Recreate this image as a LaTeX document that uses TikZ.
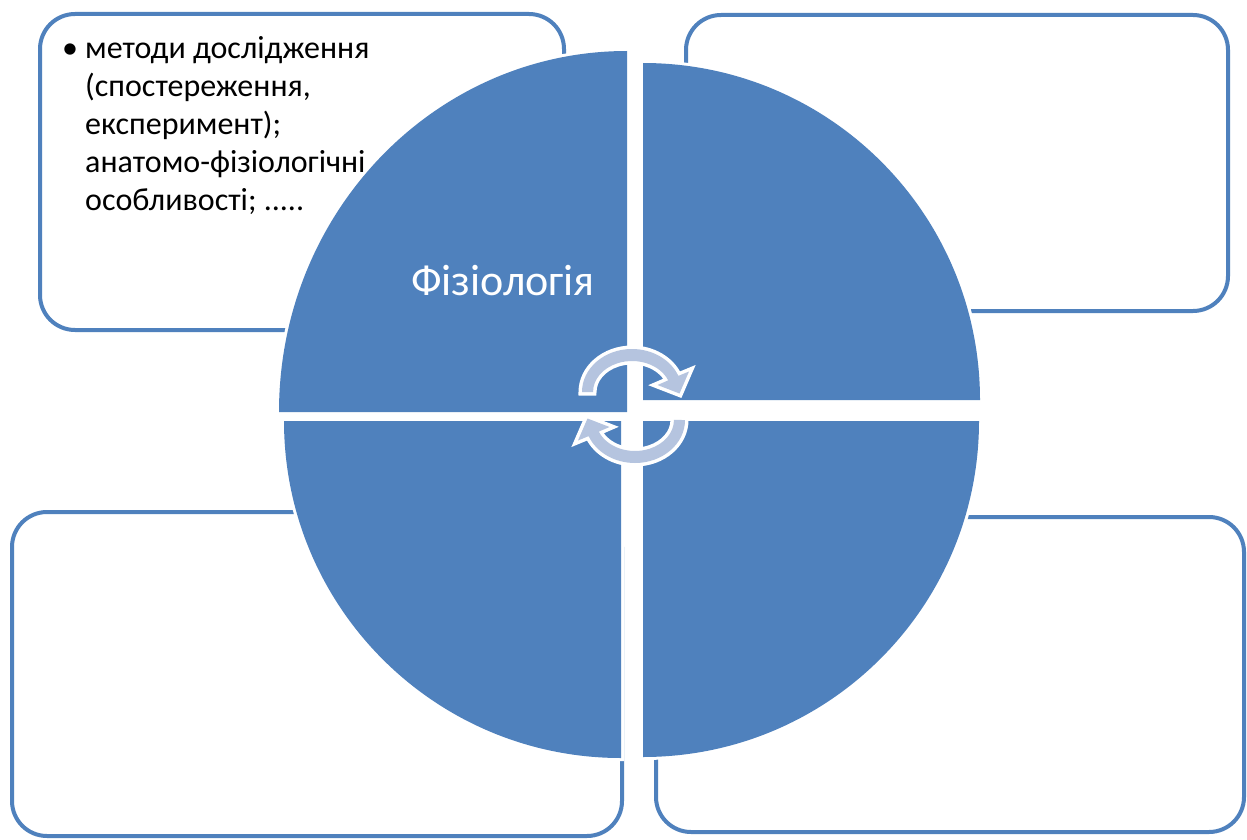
\documentclass[tikz,border=0pt]{standalone}
\usepackage{fontspec}
\setmainfont{Carlito}
\definecolor{ablue}{HTML}{4F81BD}
\definecolor{alight}{HTML}{B5C4DF}
\tikzset{
  boxst/.style={draw=ablue, line width=4pt, rounded corners=35pt},
  quad/.style={fill=ablue, preaction={draw=white, line width=6pt}},
  carrow/.style={fill=alight, preaction={draw=white, line width=7pt, line join=miter}},
  txt/.style={inner sep=0pt}
}
\begin{document}
\begin{tikzpicture}[x=1pt,y=1pt]
\useasboundingbox (0,0) rectangle (1247,-840);
\fill[white] (0,0) rectangle (1247,-840);
% text boxes
\draw[boxst] (40,-14) rectangle (564,-330);
\draw[boxst] (686,-15) rectangle (1228,-311);
\draw[boxst] (12,-512) rectangle (622,-836);
\draw[boxst] (656,-517) rectangle (1244,-832);
% quadrants
\path[quad] (627,-412) -- (279,-412) arc[start angle=180,end angle=90,x radius=348,y radius=361] -- cycle;
\path[quad] (643,-400) -- (643,-63) arc[start angle=90,end angle=0,radius=337] -- cycle;
\path[quad] (643,-421) -- (979,-421) arc[start angle=0,end angle=-90,radius=336] -- cycle;
\path[quad] (621,-421) -- (621,-758) arc[start angle=-90,end angle=-180,radius=337] -- cycle;
% circular arrows
\path[carrow] (582,-392) arc[start angle=180,end angle=22,x radius=50,y radius=43]
  -- (689,-371.5) -- (679.5,-393.5) -- (657.5,-385) -- (668.2,-380.4)
  arc[start angle=22,end angle=180,x radius=39,y radius=31] -- cycle;
\path[carrow, rotate around={180:(633.5,-406)}] (582,-392) arc[start angle=180,end angle=22,x radius=50,y radius=43]
  -- (689,-371.5) -- (679.5,-393.5) -- (657.5,-385) -- (668.2,-380.4)
  arc[start angle=22,end angle=180,x radius=39,y radius=31] -- cycle;
% texts
\node (title) [txt, anchor=base west, text=white] at (411,-295) {\fontsize{44}{52}\selectfont Фізіологія};
\node (list) [txt, anchor=base west, text=black] at (62,-59) {\fontsize{32}{38}\selectfont\makebox[23pt][l]{•}\parbox[t]{320pt}{\fontsize{32}{38}\selectfont методи дослідження\\(спостереження,\\експеримент);\\анатомо-фізіологічні\\особливості; .....}};
\end{tikzpicture}
\end{document}
